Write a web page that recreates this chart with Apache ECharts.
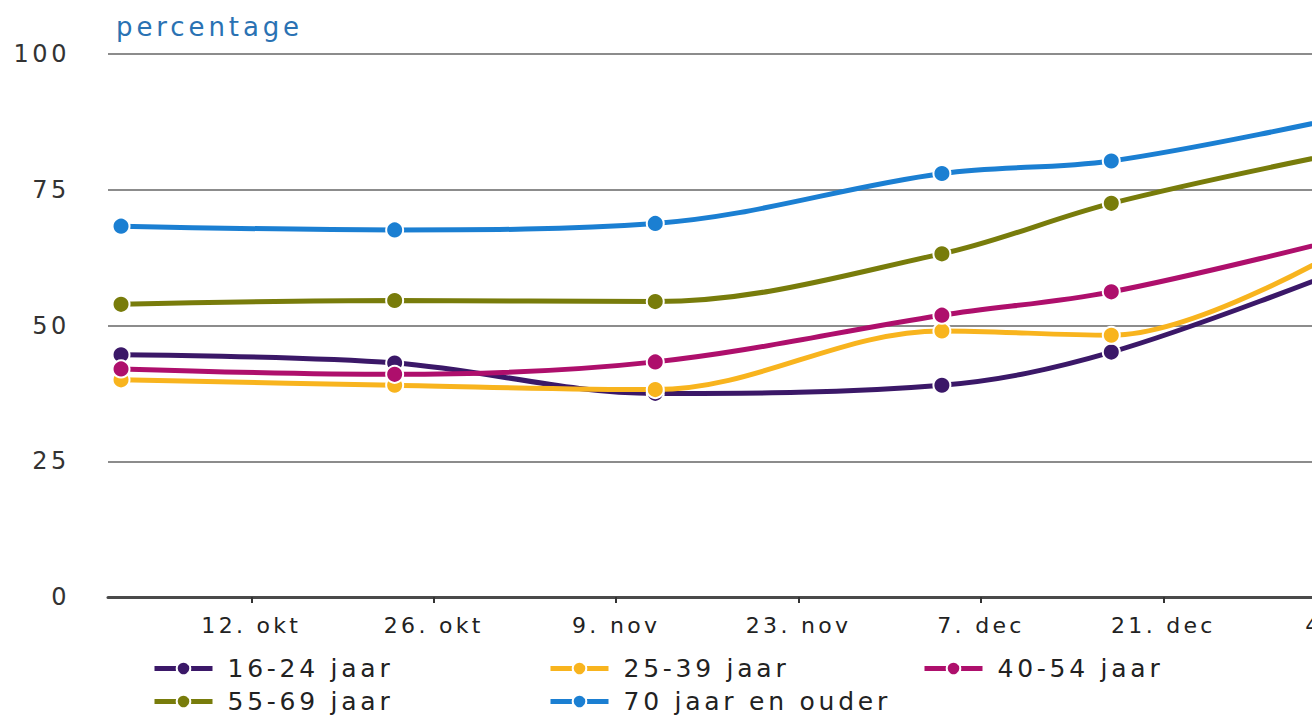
<!DOCTYPE html>
<html><head><meta charset="utf-8">
<script src="https://cdn.jsdelivr.net/npm/echarts@6/dist/echarts.min.js"></script>
<style>
html,body{margin:0;padding:0;background:#fff;overflow:hidden}
#c{width:1312px;height:716px}
#c text{letter-spacing:0.15em}
</style></head><body><div id="c"></div>
<script>
// ---- data ----
const dates = ['2021-10-02','2021-10-23','2021-11-12','2021-12-04','2021-12-17','2022-01-04'];
const seriesNames = ['16-24 jaar','25-39 jaar','40-54 jaar','55-69 jaar','70 jaar en ouder'];
const v16_24 = [44.6, 43.1, 37.5, 39.0, 45.1, 60.5];
const v25_39 = [40.0, 39.0, 38.2, 49.0, 48.2, 64.5];
const v40_54 = [42.0, 41.0, 43.3, 51.9, 56.2, 66.2];
const v55_69 = [53.9, 54.6, 54.4, 63.2, 72.5, 82.0];
const v70plus = [68.3, 67.6, 68.8, 78.0, 80.3, 88.5];
const tickDates = ['2021-10-12','2021-10-26','2021-11-09','2021-11-23','2021-12-07','2021-12-21','2022-01-04'];
const tickLabels = ['12. okt','26. okt','9. nov','23. nov','7. dec','21. dec','4. jan'];
const yTicks = [0, 25, 50, 75, 100];
const xMinDate = '2021-10-01', xMaxDate = '2022-01-10';
const colors = ['#3b1868','#f8b41e','#ae0f6c','#787c0b','#1b7fd2'];

// ---- helpers ----
const ref = Date.parse('2021-10-12T00:00:00Z');
const dayOf = s => Math.round((Date.parse(s + 'T00:00:00Z') - ref) / 86400000);
const tickDays = tickDates.map(dayOf);
const allVals = [v16_24, v25_39, v40_54, v55_69, v70plus];
const FONT = "'DejaVu Sans', Verdana, sans-serif";

const chart = echarts.init(document.getElementById('c'), null, {renderer: 'svg'});

const legendPos = [[152,656],[548,656],[922,656],[152,689],[548,689]];

const option = {
  backgroundColor: '#fff',
  animation: false,
  title: {
    text: 'percentage', left: 116, top: 14, padding: 0,
    textStyle: {fontSize: 26, color: '#2a72b3', fontWeight: 'normal', fontFamily: FONT}
  },
  legend: seriesNames.map((n, i) => ({
    data: [n], left: legendPos[i][0], top: legendPos[i][1], padding: 0,
    itemWidth: 58, itemHeight: 17, selectedMode: false,
    lineStyle: {width: 5},
    itemStyle: {borderColor: '#fff', borderWidth: 2},
    textStyle: {fontSize: 25, color: '#222', fontFamily: FONT, padding: [0,0,0,10], lineHeight: 24}
  })),
  grid: {left: 108, top: 54, width: 1316, height: 543, containLabel: false, outerBoundsMode: 'none'},
  xAxis: {
    type: 'value', min: dayOf(xMinDate), max: dayOf(xMaxDate),
    splitLine: {show: false},
    axisLine: {show: true, lineStyle: {color: '#4a4a4a', width: 3}},
    axisTick: {show: true, customValues: tickDays, length: 6, lineStyle: {color: '#333', width: 2}},
    axisLabel: {
      customValues: tickDays, margin: 17, fontSize: 22, color: '#222', fontFamily: FONT,
      formatter: v => { const i = tickDays.indexOf(v); return i >= 0 ? tickLabels[i] : ''; }
    }
  },
  yAxis: {
    type: 'value', min: yTicks[0], max: yTicks[yTicks.length - 1], interval: 25,
    axisLine: {show: false}, axisTick: {show: false},
    splitLine: {show: true, lineStyle: {color: '#8c8c8c', width: 2}},
    axisLabel: {margin: 38, fontSize: 24, color: '#333', fontFamily: FONT}
  },
  series: seriesNames.map((n, i) => ({
    name: n, type: 'line', smooth: 0.35,
    data: dates.map((d, k) => [dayOf(d), allVals[i][k]]),
    symbol: 'circle', symbolSize: 17,
    lineStyle: {width: 5, color: colors[i]},
    itemStyle: {color: colors[i], borderColor: '#fff', borderWidth: 2},
    clip: false
  }))
};
chart.setOption(option);
</script></body></html>
